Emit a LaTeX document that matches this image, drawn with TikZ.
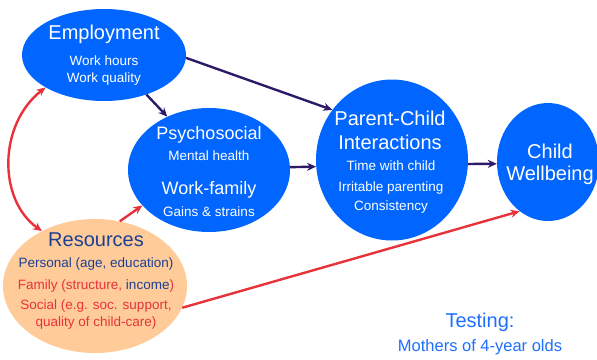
\documentclass[tikz,border=0pt]{standalone}
\usepackage{fontspec}
\setmainfont{Liberation Sans}
\usetikzlibrary{shapes.geometric,arrows.meta}
\definecolor{nodeblue}{HTML}{0066FF}
\definecolor{peach}{HTML}{FFCC99}
\definecolor{arrowdark}{HTML}{2D1B69}
\definecolor{arrowred}{HTML}{E8323A}
\definecolor{navytext}{HTML}{1C3F94}
\definecolor{testblue}{HTML}{1E6FFF}
\tikzset{
  bubble/.style={ellipse, fill=nodeblue, draw=none, inner sep=0pt},
  resbubble/.style={ellipse, fill=peach, draw=none, inner sep=0pt},
  big/.style={font=\fontsize{20}{24}\selectfont, inner sep=0pt},
  mid/.style={font=\fontsize{18}{22}\selectfont, inner sep=0pt},
  small/.style={font=\fontsize{13.5}{16}\selectfont, inner sep=0pt},
  medsmall/.style={font=\fontsize{16.5}{20}\selectfont, inner sep=0pt},
  wtext/.style={text=white},
  darrow/.style={draw=arrowdark, line width=2.4pt, -{Stealth[length=9pt,width=8pt]}},
  rarrow/.style={draw=arrowred, line width=2.4pt, -{Stealth[length=9pt,width=8pt]}},
  rdarrow/.style={draw=arrowred, line width=2.4pt, {Stealth[length=9pt,width=8pt]}-{Stealth[length=9pt,width=8pt]}},
}
\begin{document}
\begin{tikzpicture}[x=1pt,y=1pt]
\useasboundingbox (0,0) rectangle (597,-359);
% shapes
\node[bubble, minimum width=164pt, minimum height=92pt] (emp) at (104,-55) {};
\node[bubble, minimum width=162pt, minimum height=124pt] (psy) at (209,-170) {};
\node[bubble, minimum width=152pt, minimum height=161pt] (pc) at (392,-160) {};
\node[bubble, minimum width=102pt, minimum height=118pt] (cw) at (548,-162) {};
\node[resbubble, minimum width=184pt, minimum height=134pt] (res) at (95,-286) {};
% texts
\node[big, wtext] (t1) at (104,-34) {Employment};
\node[small, wtext] (t2) at (104,-61) {Work hours};
\node[small, wtext] (t3) at (104,-79) {Work quality};
\node[mid, wtext] (t4) at (209,-135) {Psychosocial};
\node[small, wtext] (t5) at (209,-156) {Mental health};
\node[mid, wtext] (t6) at (209,-190) {Work-family};
\node[small, wtext] (t7) at (209,-212) {Gains \& strains};
\node[big, wtext] (t8) at (390,-118) {Parent-Child};
\node[big, wtext] (t9) at (390,-142) {Interactions};
\node[small, wtext] (t10) at (391,-166) {Time with child};
\node[small, wtext] (t11) at (391,-188) {Irritable parenting};
\node[small, wtext] (t12) at (391,-207) {Consistency};
\node[big, wtext] (t13) at (550,-151) {Child};
\node[big, wtext] (t14) at (550,-175) {Wellbeing};
\node[big, text=navytext] (t15) at (96,-240) {Resources};
\node[small, text=navytext] (t16) at (96,-264) {Personal (age, education)};
\node[small, text=arrowred] (t17) at (96,-286) {Family (structure, \textcolor{navytext}{income})};
\node[small, text=arrowred] (t18) at (96,-306) {Social (e.g. soc. support,};
\node[small, text=arrowred] (t19) at (96,-323) {quality of child-care)};
\node[big, text=testblue] (t20) at (480,-322) {Testing:};
\node[medsmall, text=testblue] (t21) at (480,-347) {Mothers of 4-year olds};
% connectors
\draw[darrow] (emp.-2) -- (pc.140);
\draw[darrow] (emp.-43) -- (psy.128);
\draw[darrow] (psy.2) -- (pc.185);
\draw[darrow] (pc.-3) -- (cw.182);
\draw[rarrow] (res.-14) -- (cw.240);
\draw[rarrow] (res.69) -- (psy.208);
\draw[rdarrow] (res.134) .. controls (-2,-200) and (-2,-125) .. (emp.209);
\end{tikzpicture}
\end{document}
